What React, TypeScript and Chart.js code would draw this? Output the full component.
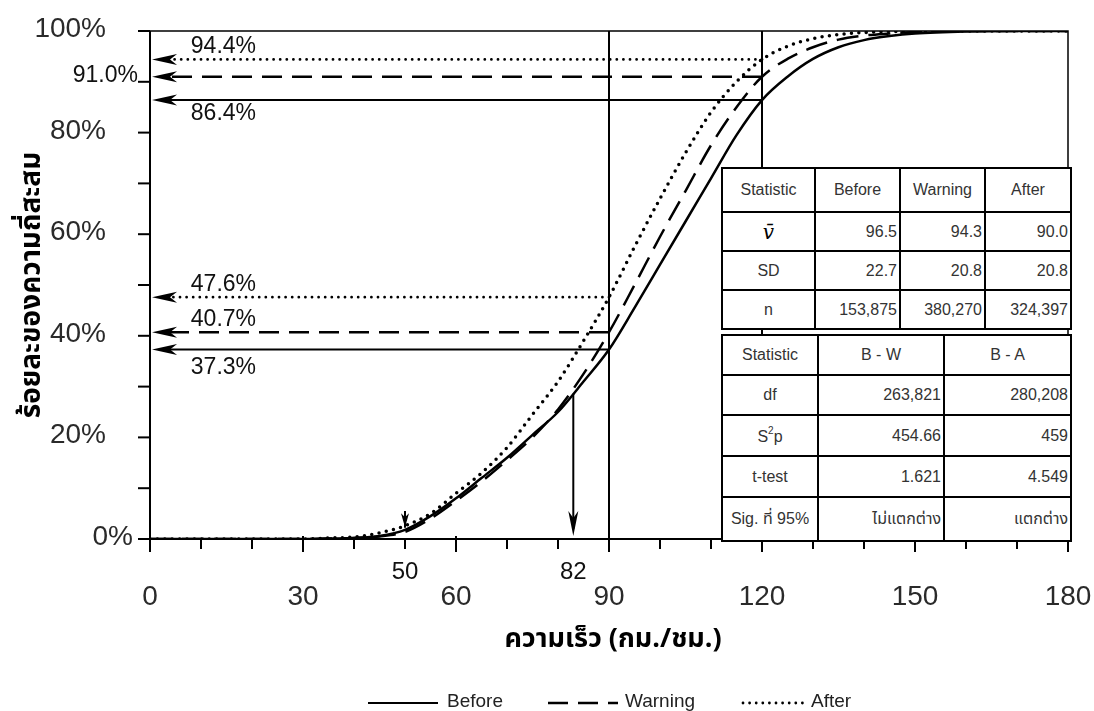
import React, { useEffect, useRef } from "react";
import { Chart, registerables } from "chart.js";

Chart.register(...registerables);

// ---------- data ----------
const speeds = [0, 10, 20, 30, 35, 40, 45, 50, 55, 60, 65, 70, 75, 80, 85, 90, 95, 100, 105, 110, 115, 120, 125, 130, 135, 140, 145, 150, 160, 170, 180];
const beforeCum = [0, 0, 0, 0, 0.1, 0.2, 0.6, 1.8, 4.5, 8, 12, 16, 20.5, 25, 31, 37.3, 45.5, 54, 62.5, 71, 79.5, 86.4, 91, 94.5, 96.8, 98.2, 99, 99.5, 99.9, 100, 100];
const warningCum = [0, 0, 0, 0, 0.1, 0.2, 0.5, 1.4, 4, 7.5, 11.3, 15.5, 20, 25.5, 32.5, 40.7, 50, 59.5, 68.5, 77.5, 85, 91, 94.5, 96.8, 98.3, 99.1, 99.5, 99.8, 100, 100, 100];
const afterCum = [0, 0, 0, 0, 0.2, 0.4, 1.2, 2.6, 5, 9, 13, 18, 24.5, 31, 39, 47.6, 57.5, 67, 76, 84, 90, 94.4, 97, 98.5, 99.3, 99.7, 99.9, 99.95, 100, 100, 100];
const seriesNames = ["Before", "Warning", "After"];

const xTickLabels = [0, 30, 60, 90, 120, 150, 180];
const yTickLabels = [0, 20, 40, 60, 80, 100];
const refSpeeds = [90, 120];
const pctAt90 = [37.3, 40.7, 47.6]; // Before, Warning, After
const pctAt120 = [86.4, 91.0, 94.4];
const markSpeeds = [50, 83];
const markLabels = ["50", "82"];

const statHeader = ["Statistic", "Before", "Warning", "After"];
const statRowLabels = ["v\u0304", "SD", "n"];
const statBefore = ["96.5", "22.7", "153,875"];
const statWarning = ["94.3", "20.8", "380,270"];
const statAfter = ["90.0", "20.8", "324,397"];
const testHeader = ["Statistic", "B - W", "B - A"];
const testRowLabels = ["df", "S2p", "t-test", "Sig. ที่ 95%"];
const testBW = ["263,821", "454.66", "1.621", "ไม่แตกต่าง"];
const testBA = ["280,208", "459", "4.549", "แตกต่าง"];

// ---------- layout ----------
const W = 1094;
const H = 711;
const LATIN = "'Liberation Sans', Arial, sans-serif";
const THAI = "'Noto Sans Thai', 'Noto Sans Thai Looped', 'Loma', 'Garuda', 'Noto Sans', sans-serif";

const topCols = [722, 815, 900, 985, 1071];
const topRows = [168, 212, 251, 290, 329];
const botCols = [722, 818, 944, 1071];
const botRows = [335, 375, 415, 456, 497, 541];

type Kind = "solid" | "dashed" | "dotted";
const kinds: Kind[] = ["solid", "dashed", "dotted"];

function setStroke(ctx: CanvasRenderingContext2D, kind: Kind) {
  ctx.strokeStyle = "#000";
  if (kind === "solid") {
    ctx.setLineDash([]);
    ctx.lineWidth = 2;
    ctx.lineCap = "butt";
  } else if (kind === "dashed") {
    ctx.setLineDash([20, 10]);
    ctx.lineWidth = 2.5;
    ctx.lineCap = "butt";
  } else {
    ctx.setLineDash([0, 6.6]);
    ctx.lineWidth = 2.8;
    ctx.lineCap = "round";
  }
}

function arrowHead(ctx: CanvasRenderingContext2D, tx: number, ty: number, dx: number, dy: number, len = 25, half = 5.5) {
  const px = -dy, py = dx;
  const bx = tx - dx * len, by = ty - dy * len;
  const nx = tx - dx * len * 0.72, ny = ty - dy * len * 0.72;
  ctx.save();
  ctx.setLineDash([]);
  ctx.fillStyle = "#000";
  ctx.beginPath();
  ctx.moveTo(tx, ty);
  ctx.lineTo(bx + px * half, by + py * half);
  ctx.lineTo(nx, ny);
  ctx.lineTo(bx - px * half, by - py * half);
  ctx.closePath();
  ctx.fill();
  ctx.restore();
}

function interp(xs: number[], ys: number[], x: number) {
  for (let i = 0; i < xs.length - 1; i++) {
    if (x >= xs[i] && x <= xs[i + 1]) {
      const t = (x - xs[i]) / (xs[i + 1] - xs[i]);
      return ys[i] + t * (ys[i + 1] - ys[i]);
    }
  }
  return ys[ys.length - 1];
}

const overlayPlugin = {
  id: "overlay",
  beforeDatasetsDraw(chart: any) {
    const ctx: CanvasRenderingContext2D = chart.ctx;
    const xs = chart.scales.x, ys = chart.scales.y;
    const X = (v: number) => xs.getPixelForValue(v);
    const Y = (v: number) => ys.getPixelForValue(v);
    ctx.save();
    setStroke(ctx, "solid");
    refSpeeds.forEach((s) => {
      ctx.beginPath();
      ctx.moveTo(X(s), Y(100));
      ctx.lineTo(X(s), Y(0));
      ctx.stroke();
    });
    const tipX = X(0.4);
    const groups = [
      { from: refSpeeds[0], vals: pctAt90 },
      { from: refSpeeds[1], vals: pctAt120 },
    ];
    groups.forEach((g) => {
      g.vals.forEach((v, i) => {
        setStroke(ctx, kinds[i]);
        ctx.beginPath();
        ctx.moveTo(X(g.from), Y(v));
        ctx.lineTo(tipX + 12, Y(v));
        ctx.stroke();
        arrowHead(ctx, tipX, Y(v), -1, 0);
      });
    });
    setStroke(ctx, "solid");
    const m82 = markSpeeds[1];
    const top82 = interp(speeds, beforeCum, m82);
    ctx.beginPath();
    ctx.moveTo(X(m82), Y(top82));
    ctx.lineTo(X(m82), Y(0) - 10);
    ctx.stroke();
    arrowHead(ctx, X(m82), Y(0) - 3, 0, 1, 25, 5);
    const m50 = markSpeeds[0];
    ctx.beginPath();
    ctx.moveTo(X(m50), Y(5.5));
    ctx.lineTo(X(m50), Y(2.2));
    ctx.stroke();
    arrowHead(ctx, X(m50), Y(interp(speeds, beforeCum, m50) + 0.5), 0, 1, 14, 4);
    ctx.restore();
  },
  afterDatasetsDraw(chart: any) {
    const ctx: CanvasRenderingContext2D = chart.ctx;
    const xs = chart.scales.x, ys = chart.scales.y;
    const X = (v: number) => xs.getPixelForValue(v);
    const Y = (v: number) => ys.getPixelForValue(v);
    const L = X(0), R = X(180), T = Y(100), B = Y(0);
    ctx.save();
    ctx.setLineDash([]);
    ctx.strokeStyle = "#000";
    ctx.lineWidth = 1.5;
    ctx.beginPath();
    ctx.moveTo(L, T);
    ctx.lineTo(R, T);
    ctx.lineTo(R, B);
    ctx.stroke();
    ctx.lineWidth = 2;
    ctx.beginPath();
    ctx.moveTo(L, T);
    ctx.lineTo(L, B);
    ctx.lineTo(R, B);
    ctx.stroke();
    for (let v = 0; v <= 180; v += 10) {
      const major = v % 30 === 0;
      ctx.beginPath();
      ctx.moveTo(X(v), major ? B - 3 : B);
      ctx.lineTo(X(v), major ? B + 13 : B + 10);
      ctx.stroke();
    }
    for (let v = 0; v <= 100; v += 10) {
      ctx.beginPath();
      ctx.moveTo(L - 12, Y(v));
      ctx.lineTo(L, Y(v));
      ctx.stroke();
    }
    // tick labels
    ctx.fillStyle = "#2a2a2a";
    ctx.font = `28px ${LATIN}`;
    ctx.textBaseline = "alphabetic";
    ctx.textAlign = "center";
    xTickLabels.forEach((v) => ctx.fillText(String(v), X(v), B + 66));
    ctx.textAlign = "right";
    yTickLabels.forEach((v) => ctx.fillText(`${v}%`, v === 0 ? L - 17 : L - 44, Y(v) + 6));

    ctx.fillStyle = "#111";
    ctx.font = `24px ${LATIN}`;
    ctx.textAlign = "center";
    markSpeeds.forEach((s, i) => ctx.fillText(markLabels[i], X(s), B + 40));

    ctx.font = `23px ${LATIN}`;
    ctx.textAlign = "left";
    const lx = X(8);
    ctx.textBaseline = "alphabetic";
    ctx.fillText(`${pctAt90[2].toFixed(1)}%`, lx, Y(pctAt90[2]) - 6);
    ctx.fillText(`${pctAt90[1].toFixed(1)}%`, lx, Y(pctAt90[1]) - 6);
    ctx.fillText(`${pctAt120[2].toFixed(1)}%`, lx, Y(pctAt120[2]) - 6);
    ctx.fillText(`${pctAt90[0].toFixed(1)}%`, lx, Y(pctAt90[0]) + 24);
    ctx.fillText(`${pctAt120[0].toFixed(1)}%`, lx, Y(pctAt120[0]) + 20);
    ctx.textAlign = "right";
    ctx.fillText(`${pctAt120[1].toFixed(1)}%`, L - 12, Y(pctAt120[1]) + 5);

    // axis titles
    ctx.fillStyle = "#000";
    ctx.font = `bold 27px ${THAI}`;
    ctx.textAlign = "center";
    ctx.textBaseline = "middle";
    ctx.fillText("ความเร็ว (กม./ชม.)", (L + R) / 2 + 4, 642);
    ctx.save();
    ctx.translate(34, (T + B) / 2);
    ctx.rotate(-Math.PI / 2);
    ctx.font = `bold 28px ${THAI}`;
    ctx.fillText("ร้อยละของความถี่สะสม", 0, 0);
    ctx.restore();

    // legend
    const legY = 703;
    const legItems = [
      { x0: 368, x1: 438, tx: 447 },
      { x0: 548, x1: 618, tx: 625 },
      { x0: 743, x1: 805, tx: 811 },
    ];
    legItems.forEach((it, i) => {
      setStroke(ctx, kinds[i]);
      ctx.beginPath();
      ctx.moveTo(it.x0, legY);
      ctx.lineTo(it.x1, legY);
      ctx.stroke();
      ctx.setLineDash([]);
      ctx.fillStyle = "#222";
      ctx.font = `19px ${LATIN}`;
      ctx.textAlign = "left";
      ctx.textBaseline = "middle";
      ctx.fillText(seriesNames[i], it.tx, legY - 1);
    });
    ctx.restore();
  },
};

function Cell(props: { x0: number; x1: number; y0: number; y1: number; align: "center" | "right"; children: React.ReactNode }) {
  const { x0, x1, y0, y1, align, children } = props;
  return (
    <div
      style={{
        position: "absolute",
        left: x0 - 1,
        top: y0 - 1,
        width: x1 - x0 + 2,
        height: y1 - y0 + 2,
        boxSizing: "border-box",
        border: "2px solid #000",
        background: "#fff",
        display: "flex",
        alignItems: "center",
        justifyContent: align === "center" ? "center" : "flex-end",
        paddingRight: align === "right" ? 2 : 0,
        font: `16px ${LATIN}, ${THAI}`,
        color: "#333",
        whiteSpace: "nowrap",
      }}
    >
      {children}
    </div>
  );
}

function renderLabel(s: string) {
  if (s === "v\u0304") {
    return <span style={{ fontFamily: "'DejaVu Serif', serif", fontStyle: "italic", fontSize: 20, color: "#000" }}>{s}</span>;
  }
  if (s === "S2p") {
    return (
      <span>
        S<sup style={{ fontSize: 10, verticalAlign: 8 }}>2</sup>p
      </span>
    );
  }
  return s;
}

export default function App() {
  const canvasRef = useRef<HTMLCanvasElement | null>(null);

  useEffect(() => {
    if (!canvasRef.current) return;
    const mk = (vals: number[]) => speeds.map((s, i) => ({ x: s, y: vals[i] }));
    const chart = new Chart(canvasRef.current, {
      type: "line",
      data: {
        datasets: [
          { label: seriesNames[0], data: mk(beforeCum), borderColor: "#000", borderWidth: 2.5, pointRadius: 0, fill: false, cubicInterpolationMode: "monotone" },
          { label: seriesNames[1], data: mk(warningCum), borderColor: "#000", borderWidth: 2.5, borderDash: [22, 10], pointRadius: 0, fill: false, cubicInterpolationMode: "monotone" },
          { label: seriesNames[2], data: mk(afterCum), borderColor: "#000", borderWidth: 3.5, borderDash: [0, 7.4], borderCapStyle: "round", pointRadius: 0, fill: false, cubicInterpolationMode: "monotone" },
        ] as any,
      },
      options: {
        responsive: false,
        animation: false,
        devicePixelRatio: 1,
        layout: { padding: { left: 150, right: 26, top: 31, bottom: 172 } },
        scales: {
          x: { type: "linear", min: 0, max: 180, display: false },
          y: { type: "linear", min: 0, max: 100, display: false },
        },
        plugins: { legend: { display: false }, tooltip: { enabled: false }, title: { display: false } },
      },
      plugins: [overlayPlugin as any],
    });
    return () => chart.destroy();
  }, []);

  const topCells: React.ReactNode[] = [];
  statHeader.forEach((h, c) => {
    topCells.push(
      <Cell key={`th${c}`} x0={topCols[c]} x1={topCols[c + 1]} y0={topRows[0]} y1={topRows[1]} align="center">
        {h}
      </Cell>
    );
  });
  statRowLabels.forEach((lab, r) => {
    const vals = [statBefore[r], statWarning[r], statAfter[r]];
    topCells.push(
      <Cell key={`tl${r}`} x0={topCols[0]} x1={topCols[1]} y0={topRows[r + 1]} y1={topRows[r + 2]} align="center">
        {renderLabel(lab)}
      </Cell>
    );
    vals.forEach((v, c) => {
      topCells.push(
        <Cell key={`tv${r}${c}`} x0={topCols[c + 1]} x1={topCols[c + 2]} y0={topRows[r + 1]} y1={topRows[r + 2]} align="right">
          {v}
        </Cell>
      );
    });
  });

  const botCells: React.ReactNode[] = [];
  testHeader.forEach((h, c) => {
    botCells.push(
      <Cell key={`bh${c}`} x0={botCols[c]} x1={botCols[c + 1]} y0={botRows[0]} y1={botRows[1]} align="center">
        {h}
      </Cell>
    );
  });
  testRowLabels.forEach((lab, r) => {
    const vals = [testBW[r], testBA[r]];
    botCells.push(
      <Cell key={`bl${r}`} x0={botCols[0]} x1={botCols[1]} y0={botRows[r + 1]} y1={botRows[r + 2]} align="center">
        {renderLabel(lab)}
      </Cell>
    );
    vals.forEach((v, c) => {
      botCells.push(
        <Cell key={`bv${r}${c}`} x0={botCols[c + 1]} x1={botCols[c + 2]} y0={botRows[r + 1]} y1={botRows[r + 2]} align="right">
          {v}
        </Cell>
      );
    });
  });

  return (
    <div style={{ position: "fixed", left: 0, top: 0, width: W, height: H, background: "#fff", overflow: "hidden" }}>
      <canvas ref={canvasRef} width={W} height={H} style={{ display: "block", width: W, height: H }} />
      {topCells}
      {botCells}
    </div>
  );
}
